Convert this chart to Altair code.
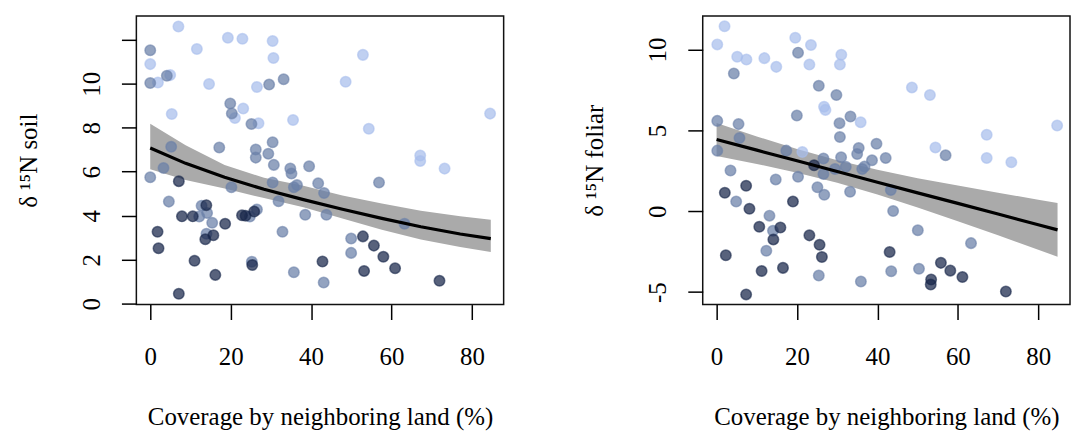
import altair as alt
import pandas as pd

FONT = "Liberation Serif"

# ---------------- soil panel (left) ----------------
soil_light_x = [7.01, 19.31, 22.93, 30.44, 11.60, 30.64, 0.0, 4.96, 1.91, 14.63, 26.54, 23.12,
                21.07, 5.35, 35.52, 26.93, 52.90, 48.60, 54.36, 67.15, 67.15, 73.21, 84.53]
soil_light_y = [12.60, 12.09, 12.04, 11.94, 11.58, 11.17, 10.89, 10.39, 10.05, 9.99, 9.85, 8.87,
                8.44, 8.62, 8.35, 8.20, 11.31, 10.09, 7.95, 6.74, 6.49, 6.14, 8.64]

soil_mid_x = [0.0, 4.13, 0.0, 29.57, 33.18, 19.90, 20.29, 25.17, 5.21, 17.17, 30.44, 26.25,
              26.25, 29.37, 30.74, 3.30, 34.84, 35.13, 39.52, 0.0, 20.19, 30.44, 36.50, 35.72,
              41.77, 43.23, 43.82, 38.55, 31.91, 4.63, 12.77, 14.14, 12.19, 15.41, 24.78, 26.54,
              13.99, 32.89, 25.27, 35.72, 43.14, 49.97, 49.97, 56.90, 63.25]
soil_mid_y = [11.52, 10.36, 10.03, 9.96, 10.20, 9.10, 8.65, 8.17, 7.13, 7.10, 7.34, 7.01,
              6.64, 6.82, 6.31, 6.17, 6.15, 5.92, 6.25, 5.75, 5.29, 5.51, 5.39, 5.29,
              5.47, 5.03, 4.04, 4.04, 4.66, 4.64, 4.45, 4.12, 3.96, 3.68, 3.96, 4.28,
              3.18, 3.27, 1.91, 1.43, 0.96, 2.96, 2.31, 5.51, 3.63]

soil_dark_x = [7.11, 13.95, 7.89, 10.58, 18.63, 22.83, 23.71, 25.86, 1.82, 2.06, 15.70, 13.70,
               11.02, 25.37, 16.19, 7.11, 42.84, 52.90, 55.63, 57.98, 53.19, 60.90, 71.94]
soil_dark_y = [5.57, 4.48, 3.97, 3.97, 3.63, 4.02, 4.00, 4.19, 3.27, 2.52, 3.11, 2.93,
               1.95, 1.76, 1.31, 0.45, 1.92, 3.06, 2.64, 2.13, 1.49, 1.61, 1.04]

soil_fit_x = [0.0, 8.8, 18.5, 28.3, 38.1, 47.8, 57.6, 67.3, 77.1, 84.7]
soil_fit_y = [7.08, 6.38, 5.75, 5.20, 4.73, 4.29, 3.88, 3.50, 3.17, 2.96]
soil_fit_lo = [6.11, 5.62, 5.24, 4.80, 4.38, 3.87, 3.36, 2.92, 2.58, 2.35]
soil_fit_hi = [8.18, 7.20, 6.30, 5.72, 5.36, 4.92, 4.55, 4.22, 3.98, 3.82]

# ---------------- foliar panel (right) ----------------
fol_light_x = [1.98, 0.17, 5.13, 7.42, 11.88, 14.85, 19.57, 23.47, 23.08, 31.02, 30.67, 26.73,
               27.07, 35.83, 21.33, 48.58, 53.06, 84.70, 67.18, 67.18, 73.31, 54.43]
fol_light_y = [11.44, 10.32, 9.56, 9.38, 9.47, 8.93, 10.73, 10.28, 9.07, 9.68, 9.07, 6.47,
               6.27, 5.51, 3.67, 7.66, 7.19, 5.30, 4.73, 3.30, 3.03, 3.95]

fol_mid_x = [4.29, 20.26, 25.42, 29.80, 19.96, 33.30, 30.57, 0.17, 5.46, 5.69, 30.67, 0.17,
             17.34, 26.58, 26.58, 30.97, 35.35, 34.96, 39.77, 38.65, 42.06, 32.13, 29.45, 36.22,
             36.81, 3.46, 14.71, 20.26, 25.08, 26.78, 33.20, 4.87, 13.15, 14.03, 12.37, 25.42,
             35.89, 56.96, 43.33, 43.91, 50.05, 63.28, 43.43, 50.34]
fol_mid_y = [8.52, 9.81, 7.76, 7.19, 5.92, 5.86, 5.45, 5.59, 5.39, 4.53, 4.59, 3.75,
             3.75, 3.26, 2.31, 3.34, 3.91, 3.54, 4.18, 3.15, 3.30, 2.76, 2.62, 2.62,
             2.77, 2.52, 1.97, 2.13, 1.49, 1.02, 1.21, 0.60, -0.27, -1.21, -2.44, -3.97,
             -4.34, 3.46, 1.31, 0.02, -1.17, -1.97, -3.71, -3.56]

fol_dark_x = [24.25, 2.05, 7.35, 8.17, 18.99, 10.62, 15.87, 14.12, 2.30, 23.08, 25.61, 26.19,
              11.20, 16.51, 7.35, 43.04, 55.79, 58.13, 61.14, 53.36, 53.26, 71.95]
fol_dark_y = [2.85, 1.15, 1.58, 0.16, 0.60, -0.96, -1.00, -1.74, -2.72, -1.49, -2.07, -2.83,
              -3.69, -3.50, -5.14, -2.52, -3.19, -3.67, -4.07, -4.22, -4.53, -4.96]

fol_fit_x = [0.0, 10.0, 20.0, 30.0, 40.0, 50.0, 60.0, 70.0, 80.0, 84.8]
fol_fit_y = [4.44, 3.78, 3.12, 2.46, 1.80, 1.14, 0.49, -0.17, -0.83, -1.15]
fol_fit_lo = [3.42, 2.93, 2.39, 1.76, 1.03, 0.23, -0.61, -1.49, -2.38, -2.81]
fol_fit_hi = [5.46, 4.63, 3.85, 3.16, 2.57, 2.05, 1.59, 1.15, 0.72, 0.51]

x_ticks = [0, 20, 40, 60, 80]
soil_ticks = [0, 2, 4, 6, 8, 10, 12]
fol_ticks = [-5, 0, 5, 10]

GROUPS = ["light", "mid", "dark"]
COLORS = ["#a8beec", "#6a80a8", "#17264a"]


def points_df(lx, ly, mx, my, dx, dy):
    rows = []
    for g, xs, ys in (("light", lx, ly), ("mid", mx, my), ("dark", dx, dy)):
        for a, b in zip(xs, ys):
            rows.append({"x": a, "y": b, "g": g})
    return pd.DataFrame(rows)


def fit_df(xs, ys, lo, hi):
    return pd.DataFrame({"x": xs, "fit": ys, "lo": lo, "hi": hi})


def panel(pts, fit, ydomain, yticks, hide_label, ytitle):
    xscale = alt.Scale(domain=[-3.45, 87.9], nice=False, zero=False)
    yscale = alt.Scale(domain=ydomain, nice=False, zero=False)
    xaxis = alt.Axis(values=x_ticks, title="Coverage by neighboring land (%)", grid=False,
                     domain=False, tickSize=15, tickWidth=1.5, tickColor="black",
                     labelPadding=25, labelFontSize=25, labelFont=FONT, labelColor="black",
                     titleFont=FONT, titleFontSize=25, titleFontWeight="normal", titleColor="black",
                     minExtent=65, maxExtent=65, titlePadding=35, labelFlush=False)
    if hide_label is not None:
        label_expr = "datum.value == %s ? '' : datum.label" % hide_label
    else:
        label_expr = "datum.value < 0 ? '-' + format(-datum.value, 'd') : datum.label"
    yaxis = alt.Axis(values=yticks, title=ytitle, grid=False, domain=False, tickSize=15,
                     tickWidth=1.5, tickColor="black", labelAngle=270, labelAlign="center",
                     labelBaseline="bottom", labelPadding=17.5, labelFontSize=25, labelFont=FONT,
                     labelColor="black", labelExpr=label_expr, labelFlush=False,
                     titleFont=FONT, titleFontSize=25, titleFontWeight="normal", titleColor="black",
                     titleAngle=270, titleBaseline="bottom",
                     minExtent=57.5, maxExtent=57.5, titlePadding=38)
    band = alt.Chart(fit).mark_area(color="#aaaaaa", opacity=1).encode(
        x=alt.X("x:Q", scale=xscale, axis=xaxis),
        y=alt.Y("lo:Q", scale=yscale, axis=yaxis),
        y2="hi:Q",
    )
    cscale = alt.Scale(domain=GROUPS, range=COLORS)
    pts_layer = alt.Chart(pts).mark_circle(size=112, fillOpacity=0.72, strokeOpacity=0.6,
                                           strokeWidth=1.5).encode(
        x=alt.X("x:Q", scale=xscale),
        y=alt.Y("y:Q", scale=yscale),
        color=alt.Color("g:N", scale=cscale, legend=None),
        stroke=alt.Stroke("g:N", scale=cscale, legend=None),
    )
    line = alt.Chart(fit).mark_line(color="black", strokeWidth=3.2).encode(
        x=alt.X("x:Q", scale=xscale),
        y=alt.Y("fit:Q", scale=yscale),
    )
    return alt.layer(band, pts_layer, line).properties(width=369, height=290)


soil = panel(points_df(soil_light_x, soil_light_y, soil_mid_x, soil_mid_y, soil_dark_x, soil_dark_y),
             fit_df(soil_fit_x, soil_fit_y, soil_fit_lo, soil_fit_hi),
             [-0.04, 13.08], soil_ticks, 12, "δ ¹⁵N soil")
foliar = panel(points_df(fol_light_x, fol_light_y, fol_mid_x, fol_mid_y, fol_dark_x, fol_dark_y),
               fit_df(fol_fit_x, fol_fit_y, fol_fit_lo, fol_fit_hi),
               [-5.77, 12.08], fol_ticks, None, "δ ¹⁵N foliar")

chart = alt.hconcat(soil, foliar, spacing=77).resolve_scale(
    x="independent", y="independent", color="shared"
).properties(
    padding={"left": 15, "top": 14, "right": 0, "bottom": 0},
    background="white",
).configure_view(stroke="#111111", strokeWidth=1.5)

chart.save("out.html", embed_options={"renderer": "svg", "actions": False})
